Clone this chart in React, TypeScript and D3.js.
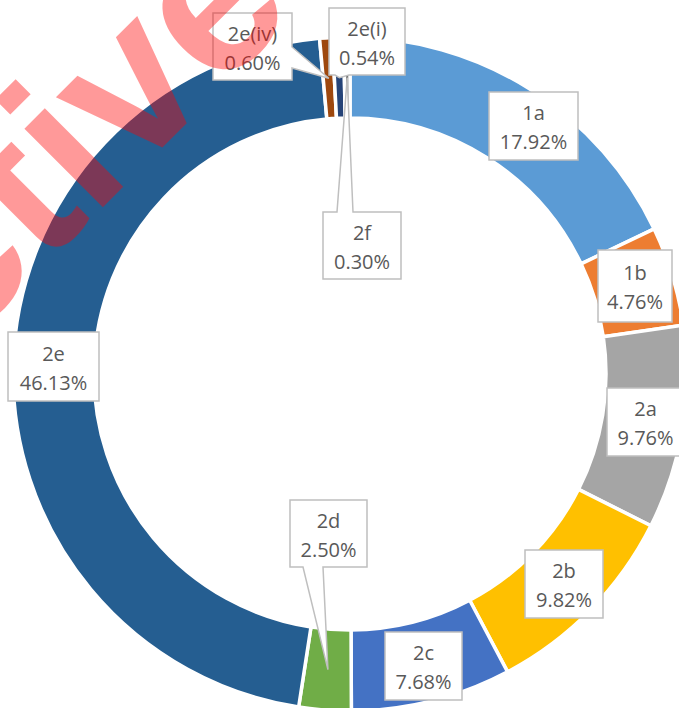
import React from "react";
import * as d3 from "d3";

const categories = ["1a", "1b", "2a", "2b", "2c", "2d", "2e", "2e(iv)", "2e(i)", "2f"];
const values = [17.92, 4.76, 9.76, 9.82, 7.68, 2.5, 46.13, 0.6, 0.54, 0.3];
const valueLabels = ["17.92%", "4.76%", "9.76%", "9.82%", "7.68%", "2.50%", "46.13%", "0.60%", "0.54%", "0.30%"];
const colors = ["#5B9BD5", "#ED7D31", "#A5A5A5", "#FFC000", "#4472C4", "#70AD47", "#255E91", "#9E480E", "#264478", "#636363"];

// label box layout: [x0, y0, x1, y1], pointer side and base range (null = no pointer)
type Box = { b: [number, number, number, number]; side?: "top" | "bottom" | "right"; base?: [number, number] };
const boxes: Box[] = [
  { b: [489, 92, 578, 160] },
  { b: [598, 250, 672, 322] },
  { b: [607, 388, 684, 456] },
  { b: [525, 550, 603, 618] },
  { b: [385, 632, 462, 700] },
  { b: [290, 500, 367, 567], side: "bottom", base: [303, 323] },
  { b: [8, 332, 99, 401] },
  { b: [213, 13, 292, 80], side: "right", base: [47, 68] },
  { b: [329, 8, 405, 75], side: "bottom", base: [335, 349] },
  { b: [323, 212, 401, 279], side: "top", base: [337, 353] },
];

const W = 679, H = 708;
const cx = 350, cy = 374, R = 337, r = 256;

function calloutPath(box: Box, tip: [number, number] | null): string {
  const [x0, y0, x1, y1] = box.b;
  if (!box.side || !tip || !box.base) return `M${x0},${y0}H${x1}V${y1}H${x0}Z`;
  const [a, b] = box.base;
  const [tx, ty] = tip;
  if (box.side === "bottom") return `M${x0},${y0}H${x1}V${y1}H${b}L${tx},${ty}L${a},${y1}H${x0}Z`;
  if (box.side === "top") return `M${x0},${y0}H${a}L${tx},${ty}L${b},${y0}H${x1}V${y1}H${x0}Z`;
  return `M${x0},${y0}H${x1}V${a}L${tx},${ty}L${x1},${b}V${y1}H${x0}Z`;
}

export default function App() {
  const pie = d3.pie<number>().sort(null).value((d) => d);
  const arcs = pie(values);
  const arc = d3.arc<d3.PieArcDatum<number>>().innerRadius(r).outerRadius(R);
  const mid = d3.arc<d3.PieArcDatum<number>>().innerRadius((R + r) / 2).outerRadius((R + r) / 2);
  return (
    <svg width={W} height={H} style={{ position: "absolute", left: 0, top: 0, background: "#fff" }}>
      <g transform={`translate(${cx},${cy})`}>
        {arcs.map((a, i) => (
          <path key={i} d={arc(a) || ""} fill={colors[i]} stroke="#fff" strokeWidth={3.5} strokeLinejoin="miter" />
        ))}
      </g>
      {boxes.map((bx, i) => {
        const c = mid.centroid(arcs[i]);
        const tip: [number, number] = [c[0] + cx, c[1] + cy];
        const [x0, y0, x1, y1] = bx.b;
        const mx = (x0 + x1) / 2, my = (y0 + y1) / 2;
        return (
          <g key={i}>
            <path d={calloutPath(bx, tip)} fill="#fff" stroke="#BFBFBF" strokeWidth={1.5} />
            <text x={mx} y={my - 6} textAnchor="middle" fontFamily="'Open Sans', sans-serif" fontSize={20} fill="#595959">
              {categories[i]}
            </text>
            <text x={mx} y={my + 23} textAnchor="middle" fontFamily="'Open Sans', sans-serif" fontSize={20} fill="#595959">
              {valueLabels[i]}
            </text>
          </g>
        );
      })}
      <text
        x={0}
        y={0}
        transform="translate(299,11) rotate(-45)"
        textAnchor="end"
        fontFamily="'Liberation Sans', sans-serif"
        fontWeight="bold"
        fontSize={210}
        fill="#FF0000"
        fillOpacity={0.4}
      >
        Inactive
      </text>
    </svg>
  );
}
